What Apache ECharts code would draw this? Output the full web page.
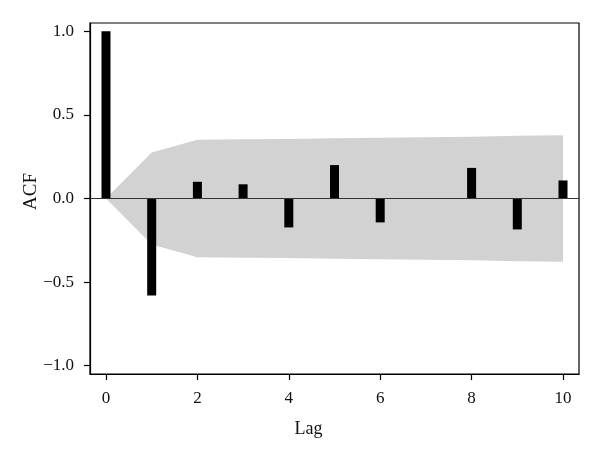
<!DOCTYPE html>
<html>
<head>
<meta charset="utf-8">
<script src="https://cdn.jsdelivr.net/npm/echarts@6/dist/echarts.min.js"></script>
<style>
html,body{margin:0;padding:0;background:#fff;}
#chart{width:600px;height:460px;}
</style>
</head>
<body>
<div id="chart"></div>
<script>
const lags = [0, 1, 2, 3, 4, 5, 6, 7, 8, 9, 10];
const acf = [1.0, -0.58, 0.10, 0.085, -0.173, 0.20, -0.143, 0.0, 0.183, -0.185, 0.108];
const ciLags = [0, 1, 2, 3, 4, 5, 6, 7, 8, 9, 10];
const ciUpper = [0, 0.275, 0.352, 0.354, 0.356, 0.36, 0.364, 0.367, 0.37, 0.375, 0.378];
const xTicks = [0, 2, 4, 6, 8, 10];
const yTicks = [-1.0, -0.5, 0.0, 0.5, 1.0];
const yTickLabels = ['\u22121.0', '\u22120.5', '0.0', '0.5', '1.0'];

const font = 'Liberation Serif, DejaVu Serif, serif';
const chart = echarts.init(document.getElementById('chart'));
chart.setOption({
  animation: false,
  backgroundColor: '#fff',
  grid: { left: 90, right: 21, top: 23, bottom: 86, show: true, borderColor: '#000', borderWidth: 1.2 },
  xAxis: {
    type: 'value', min: -0.35, max: 10.35,
    name: 'Lag', nameLocation: 'middle', nameGap: 46, nameMoveOverlap: false,
    nameTextStyle: { fontFamily: font, fontSize: 18, color: '#111', padding: [0, 52, 0, 0] },
    axisLine: { show: true, onZero: false, lineStyle: { color: '#000', width: 1.2 } },
    axisTick: { show: true, length: 6, customValues: xTicks, lineStyle: { color: '#000', width: 1.2 } },
    axisLabel: { customValues: xTicks, margin: 16, fontFamily: font, fontSize: 17, color: '#111' },
    splitLine: { show: false }
  },
  yAxis: {
    type: 'value', min: -1.05, max: 1.05,
    name: 'ACF', nameLocation: 'middle', nameGap: 49, nameMoveOverlap: false,
    nameTextStyle: { fontFamily: font, fontSize: 19, color: '#111', padding: [0, 0, 0, 14] },
    axisLine: { show: true, onZero: false, lineStyle: { color: '#000', width: 1.2 } },
    axisTick: { show: true, length: 6, customValues: yTicks, lineStyle: { color: '#000', width: 1.2 } },
    axisLabel: {
      customValues: yTicks, margin: 16, fontFamily: font, fontSize: 17, color: '#111',
      formatter: v => { const i = yTicks.findIndex(t => Math.abs(t - v) < 1e-9); return i >= 0 ? yTickLabels[i] : ''; }
    },
    splitLine: { show: false }
  },
  series: [
    {
      type: 'line', data: ciLags.map((l, i) => [l, ciUpper[i]]), symbol: 'none',
      lineStyle: { width: 0 }, areaStyle: { color: '#d2d2d2', opacity: 1 }, z: 1, silent: true
    },
    {
      type: 'line', data: ciLags.map((l, i) => [l, -ciUpper[i]]), symbol: 'none',
      lineStyle: { width: 0 }, areaStyle: { color: '#d2d2d2', opacity: 1 }, z: 1, silent: true
    },
    {
      type: 'bar', data: lags.map((l, i) => [l, acf[i]]), barWidth: 9,
      itemStyle: { color: '#000' }, z: 3,
      markLine: {
        silent: true, symbol: 'none', label: { show: false },
        lineStyle: { color: '#333', width: 1.2, type: 'solid' },
        data: [{ yAxis: 0 }]
      }
    }
  ]
});
</script>
</body>
</html>
